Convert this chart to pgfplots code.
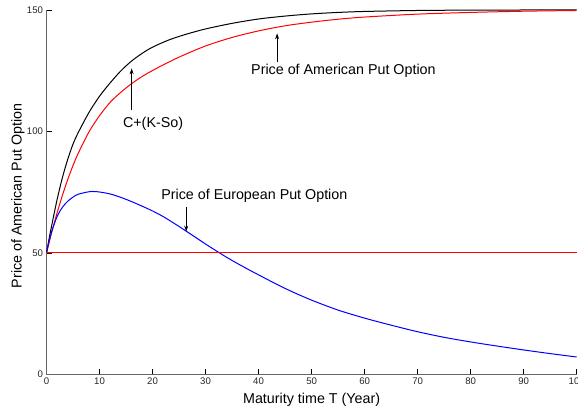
\documentclass[border=0pt]{standalone}
\usepackage{fontspec}
\setmainfont{Liberation Sans}
\usepackage{pgfplots}
\pgfplotsset{compat=1.18}
\usetikzlibrary{arrows.meta}
\begin{document}
\begin{tikzpicture}
\begin{axis}[
  scale only axis, width=530.2pt, height=364.5pt,
  xmin=0, xmax=100, ymin=0, ymax=150,
  axis x line*=bottom, axis y line*=left,
  xtick pos=left, ytick pos=left,
  axis line style={-, draw=black!60, line width=1.4pt},
  tick align=inside, major tick length=5pt,
  tick style={black, line width=0.8pt},
  xtick={0,10,...,100}, ytick={0,50,100,150},
  /pgf/number format/assume math mode=true,
  ticklabel style={font=\fontsize{9.6}{10}\selectfont, text=black!85},
  xlabel={Maturity time T (Year)},
  ylabel={Price of American Put Option},
  label style={font=\fontsize{14.3}{16}\selectfont},
  xlabel style={at={(axis description cs:0.5,-0.079)}, anchor=base},
  ylabel style={at={(axis description cs:-0.054,0.49)}, anchor=center},
  clip=false,
]
\addplot[black, line width=1pt, smooth, tension=0.5] coordinates {
(0,50) (0.5,56) (1,61.5) (2,72) (3,81) (4,88.5) (5,94.8) (6,99.6) (8,107.8) (10,114.5)
(12,120) (14,124.9) (16,128.9) (18,132.1) (20,134.7) (23,137.6) (26,139.8) (30,142.2)
(35,144.5) (40,146.3) (45,147.5) (50,148.4) (55,149) (60,149.4) (70,149.8) (80,149.95) (90,150) (100,150)};
\addplot[red, line width=1pt, smooth, tension=0.5] coordinates {
(0,50) (0.5,54.3) (1,58.6) (2,66.5) (3,73.7) (4,80.2) (5,86) (6,91.1) (8,99.8) (10,106.5)
(12,112) (14,116.1) (16,119.6) (18,122.6) (20,125.1) (22,127.4) (25,130.6) (30,135.2)
(35,138.7) (40,141.4) (45,143.5) (50,145.0) (55,146.2) (60,147.1) (70,148.3) (80,149.0) (90,149.5) (100,149.8)};
\addplot[blue, line width=1pt, smooth, tension=0.5] coordinates {
(0,50) (0.5,55) (1,59) (2,65) (3,68.8) (4,71.3) (5,73) (6,74.2) (8,75.2) (9,75.3)
(10,75.1) (12,74.3) (14,72.9) (16,71.2) (18,69.3) (20,67.3) (22,65.0) (24,62.3)
(26,59.5) (28,56.6) (30,53.7) (32,50.9) (34,48.2) (36,45.7) (38,43.3) (40,41.0)
(43,37.6) (46,34.4) (50,30.6) (55,26.5) (60,23.2) (65,20.3) (70,17.6) (75,15.3)
(80,13.4) (85,11.7) (90,10.1) (95,8.6) (100,7.2)};
\addplot[red, line width=1pt] coordinates {(0,50) (100,50)};
\node[font=\fontsize{14.3}{16}\selectfont] at (axis cs:20.1,103.1) {C+(K-So)};
\draw[-{Stealth[length=6pt,width=4pt]}, line width=0.8pt] (axis cs:16.06,108.8) -- (axis cs:16.06,126.0);
\node[font=\fontsize{14.3}{16}\selectfont] at (axis cs:56.0,124.9) {Price of American Put Option};
\draw[-{Stealth[length=6pt,width=4pt]}, line width=0.8pt] (axis cs:43.5,128.4) -- (axis cs:43.5,140.4);
\node[font=\fontsize{14.3}{16}\selectfont] at (axis cs:39.2,73.5) {Price of European Put Option};
\draw[-{Stealth[length=6pt,width=4pt]}, line width=0.8pt] (axis cs:26.35,69.1) -- (axis cs:26.35,58.8);
\end{axis}
\pgfresetboundingbox
\useasboundingbox ([xshift=-46.5pt,yshift=-37.5pt]current axis.south west) rectangle ([xshift=1.3pt,yshift=10pt]current axis.north east);
\end{tikzpicture}
\end{document}
